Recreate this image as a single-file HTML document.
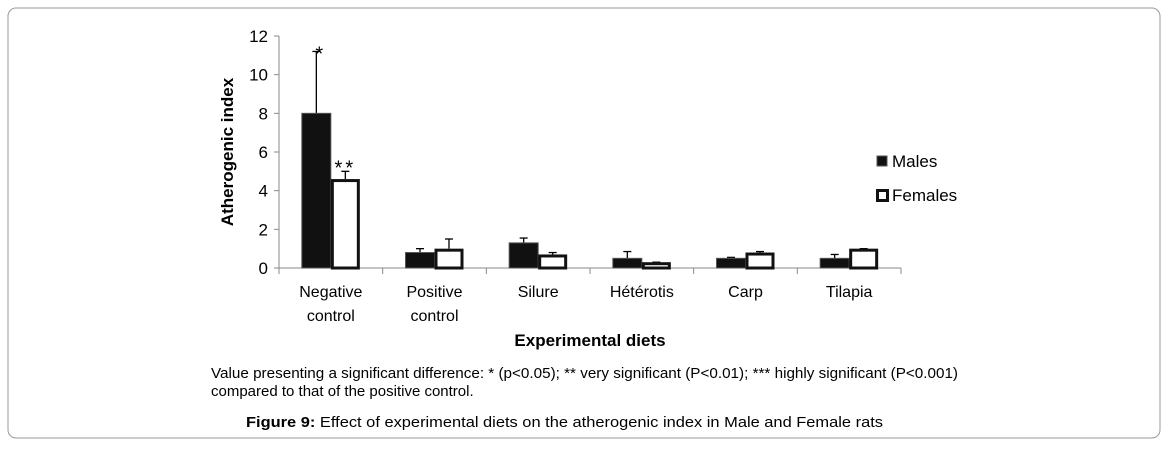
<!DOCTYPE html>
<html><head><meta charset="utf-8"><style>
body{margin:0;background:#fff;width:1170px;height:447px;overflow:hidden;font-family:"Liberation Sans",sans-serif}
</style></head><body>
<svg width="1170" height="447" xmlns="http://www.w3.org/2000/svg">
<rect x="8" y="8" width="1152" height="430" rx="8" fill="#fff" stroke="#999" stroke-width="1"/>
<g id="chart"></g>
<text x="211" y="378" font-size="15" fill="#000" textLength="747" lengthAdjust="spacingAndGlyphs">Value presenting a significant difference: * (p&lt;0.05); ** very significant (P&lt;0.01); *** highly significant (P&lt;0.001)</text>
<text x="211" y="396" font-size="15" fill="#000">compared to that of the positive control.</text>
<text x="246" y="427" font-size="15" fill="#000" textLength="637" lengthAdjust="spacingAndGlyphs"><tspan font-weight="bold">Figure 9:</tspan> Effect of experimental diets on the atherogenic index in Male and Female rats</text>
</svg>
<script>
const categories=[["Negative","control"],["Positive","control"],["Silure"],["Hétérotis"],["Carp"],["Tilapia"]];
const males=[8,0.8,1.3,0.5,0.5,0.5];
const females=[4.6,1.0,0.7,0.3,0.8,1.0];
const malesErr=[3.2,0.2,0.25,0.35,0.05,0.2];
const femalesErr=[0.4,0.5,0.1,0,0.05,0];
const marks=["*","","","","",""];
const marksF=["**","","","","",""];
const yTicks=[0,2,4,6,8,10,12];
const NS="http://www.w3.org/2000/svg";
const g=document.getElementById('chart');
const x0=279,x1=901,y0=268,yTop=36,yMax=12;
const bw=(x1-x0)/categories.length;
const y=v=>y0-(v/yMax)*(y0-yTop);
const cx=i=>x0+bw*(i+0.5);
function el(t,a,txt){const e=document.createElementNS(NS,t);for(const k in a)e.setAttribute(k,a[k]);if(txt!==undefined)e.textContent=txt;g.appendChild(e);return e;}
let e;
e=el('line',{x1:x0,y1:yTop,x2:x0,y2:y0,stroke:'#888'});


e=el('line',{x1:x0,y1:y0,x2:x1,y2:y0,stroke:'#888'});


yTicks.forEach(v=>{
 e=el('line',{x1:x0-5,y1:y(v),x2:x0,y2:y(v),stroke:'#888'});
 
 
 e=el('text',{x:x0-11,y:y(v)+6,'font-size':17,'text-anchor':'end'},v);
 
 
});
for(let i=0;i<=categories.length;i++){
 e=el('line',{x1:x0+bw*i,y1:y0,x2:x0+bw*i,y2:y0+6,stroke:'#888'});
 
 
}
categories.forEach((c,i)=>{
 c.forEach((l,j)=>{
  e=el('text',{x:cx(i),y:297+j*24,'font-size':16,'text-anchor':'middle'},l);
  
  
 });
 const w=29;
 const mx=cx(i)-w;
 e=el('line',{x1:mx+w/2,y1:y(males[i]+malesErr[i]),x2:mx+w/2,y2:y(males[i]),stroke:'#000','stroke-width':1.3});
 
 
 e=el('line',{x1:mx+w/2-4,y1:y(males[i]+malesErr[i]),x2:mx+w/2+4,y2:y(males[i]+malesErr[i]),stroke:'#000','stroke-width':1.3});
 
 
 e=el('rect',{x:mx,y:y(males[i]),width:w,height:y0-y(males[i]),fill:'#111',stroke:'#555','stroke-width':1});
 
 
 const fx=cx(i);
 e=el('line',{x1:fx+w/2,y1:y(females[i]+femalesErr[i]),x2:fx+w/2,y2:y(females[i]),stroke:'#000','stroke-width':1.3});
 
 
 e=el('line',{x1:fx+w/2-4,y1:y(females[i]+femalesErr[i]),x2:fx+w/2+4,y2:y(females[i]+femalesErr[i]),stroke:'#000','stroke-width':1.3});
 
 
 e=el('rect',{x:fx+1.5,y:y(females[i])+1.5,width:w-3,height:y0-y(females[i])-1.5,fill:'#fff',stroke:'#111','stroke-width':3});
 
 
 if(marks[i]){
  e=el('text',{x:mx+w/2+3,y:y(males[i]+malesErr[i])+9,'font-size':20,'text-anchor':'middle'},marks[i]);
  
  
 }
 if(marksF[i]){
  e=el('text',{x:fx+w/2,y:y(females[i]+femalesErr[i])+3,'font-size':20,'text-anchor':'middle','letter-spacing':'3'},marksF[i]);
  
  
 }
});
e=el('text',{x:0,y:0,'font-size':17,'font-weight':'bold','text-anchor':'middle',transform:'translate(233,152) rotate(-90)'},'Atherogenic index');


e=el('text',{x:590,y:346,'font-size':17,'font-weight':'bold','text-anchor':'middle'},'Experimental diets');


e=el('rect',{x:877,y:156,width:10,height:10,fill:'#111',stroke:'#555'});


e=el('text',{x:892,y:167,'font-size':17},'Males');


e=el('rect',{x:877.5,y:190.5,width:10,height:10,fill:'#fff',stroke:'#111','stroke-width':3});


e=el('text',{x:892,y:201,'font-size':17},'Females');


</script>
</body></html>
